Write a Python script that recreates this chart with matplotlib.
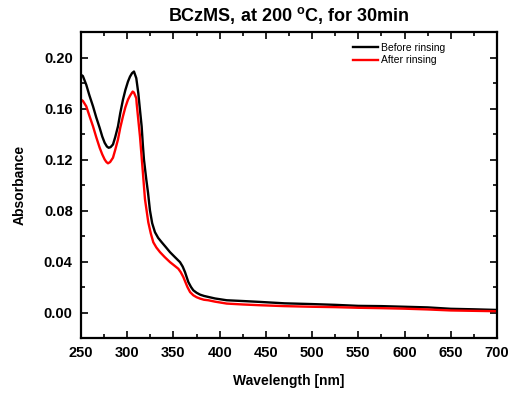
import matplotlib
matplotlib.use("Agg")
import matplotlib.pyplot as plt
from matplotlib.ticker import MultipleLocator

plt.rcParams['font.family'] = ['Liberation Sans', 'DejaVu Sans']
plt.rcParams['mathtext.fontset'] = 'custom'
plt.rcParams['mathtext.rm'] = 'Liberation Sans:bold'
plt.rcParams['mathtext.bf'] = 'Liberation Sans:bold'

wl_before = [250, 252, 255.7, 259, 263, 266.5, 270.2, 273, 275.6, 278, 279.9, 282, 284.6, 287, 290,
             292.5, 295.4, 298, 300.8, 303, 305.2, 307.3, 309.8, 312, 313.4, 315.6, 317, 318.1,
             320.6, 322.5, 324.6, 327, 330, 333.5, 337.3, 341.5, 346.3, 351.5, 357.1, 360, 362.5,
             366.1, 369, 371.5, 375, 378.8, 383, 387.7, 395, 407.6, 425, 443.6, 470, 500, 525,
             550, 575, 600, 625, 650, 675, 700]
abs_before = [0.1864, 0.1855, 0.1786, 0.1705, 0.1617, 0.1530, 0.1448, 0.1380, 0.1331, 0.1302, 0.1292,
              0.1297, 0.1318, 0.1375, 0.1460, 0.1565, 0.1669, 0.1745, 0.1811, 0.1850, 0.1877, 0.1890,
              0.1838, 0.1720, 0.1617, 0.1460, 0.1305, 0.1200, 0.1045, 0.0940, 0.0800, 0.0700, 0.0630,
              0.0585, 0.0551, 0.0515, 0.0473, 0.0435, 0.0395, 0.0360, 0.0317, 0.0239, 0.0200, 0.0174,
              0.0155, 0.0140, 0.0130, 0.0122, 0.0110, 0.0096, 0.0090, 0.0083, 0.0072, 0.0066, 0.0060,
              0.0052, 0.0050, 0.0045, 0.0040, 0.0029, 0.0025, 0.0020]

wl_after = [250, 252, 255.7, 259, 263, 266.5, 270.2, 273, 275.6, 277.5, 279.2, 281.5, 284.6, 287,
            290, 292.5, 295.4, 298, 300.8, 303, 305.9, 307.3, 309.8, 310.2, 313.8, 316.7, 319.2,
            322.8, 325.5, 328.2, 331.5, 335.5, 340.5, 346.3, 351, 355.3, 358, 360.7, 365.1, 368,
            371.5, 375, 378.8, 383, 387.7, 395, 407.6, 425, 443.6, 470, 500, 525, 550, 575, 600,
            625, 650, 675, 700]
abs_after = [0.1669, 0.1660, 0.1617, 0.1545, 0.1460, 0.1375, 0.1292, 0.1240, 0.1200, 0.1180, 0.1170,
             0.1180, 0.1214, 0.1275, 0.1357, 0.1450, 0.1539, 0.1610, 0.1669, 0.1700, 0.1733, 0.1725,
             0.1680, 0.1640, 0.1380, 0.1120, 0.0889, 0.0707, 0.0620, 0.0551, 0.0510, 0.0473, 0.0435,
             0.0395, 0.0368, 0.0343, 0.0315, 0.0278, 0.0200, 0.0160, 0.0135, 0.0120, 0.0109, 0.0100,
             0.0096, 0.0085, 0.0070, 0.0063, 0.0057, 0.0050, 0.0045, 0.0042, 0.0037, 0.0034, 0.0030,
             0.0024, 0.0016, 0.0013, 0.0010]

x_ticks = [250, 300, 350, 400, 450, 500, 550, 600, 650, 700]
y_ticks = [0.00, 0.04, 0.08, 0.12, 0.16, 0.20]

fig = plt.figure(figsize=(5.13, 3.99), dpi=100)
ax = fig.add_axes([81/513, 1-338/399, (497-81)/513, (338-32)/399])

ax.plot(wl_before, abs_before, color='black', lw=1.7, label='Before rinsing',
        solid_joinstyle='round')
ax.plot(wl_after, abs_after, color='#ff0000', lw=1.7, label='After rinsing',
        solid_joinstyle='round')

ax.set_xlim(250, 700)
ax.set_ylim(-0.02, 0.22)
ax.set_xticks(x_ticks)
ax.set_yticks(y_ticks)
ax.set_yticklabels([f"{v:.2f}" for v in y_ticks])
ax.xaxis.set_minor_locator(MultipleLocator(25))
ax.yaxis.set_minor_locator(MultipleLocator(0.02))
ax.tick_params(which='both', direction='in', top=True, right=True, width=1.2)
ax.tick_params(which='major', length=5, labelsize=10.5, pad=6)
ax.tick_params(which='minor', length=3)
for lab in ax.get_xticklabels() + ax.get_yticklabels():
    lab.set_fontweight('bold')
for s in ax.spines.values():
    s.set_linewidth(1.6)

ax.set_xlabel('Wavelength [nm]', fontsize=10, fontweight='bold', labelpad=10)
ax.set_ylabel('Absorbance', fontsize=10, fontweight='bold', labelpad=12)
ax.set_title(r'BCzMS, at 200 $^{\mathrm{o}}$C, for 30min', fontsize=13, fontweight='bold', pad=8)

ax.legend(loc='upper left', bbox_to_anchor=(0.655, 0.965), frameon=False, fontsize=7.5,
          borderpad=0, borderaxespad=0, handlelength=2.4, handletextpad=0.2, labelspacing=0.25)

fig.savefig('out.png', dpi=100)
